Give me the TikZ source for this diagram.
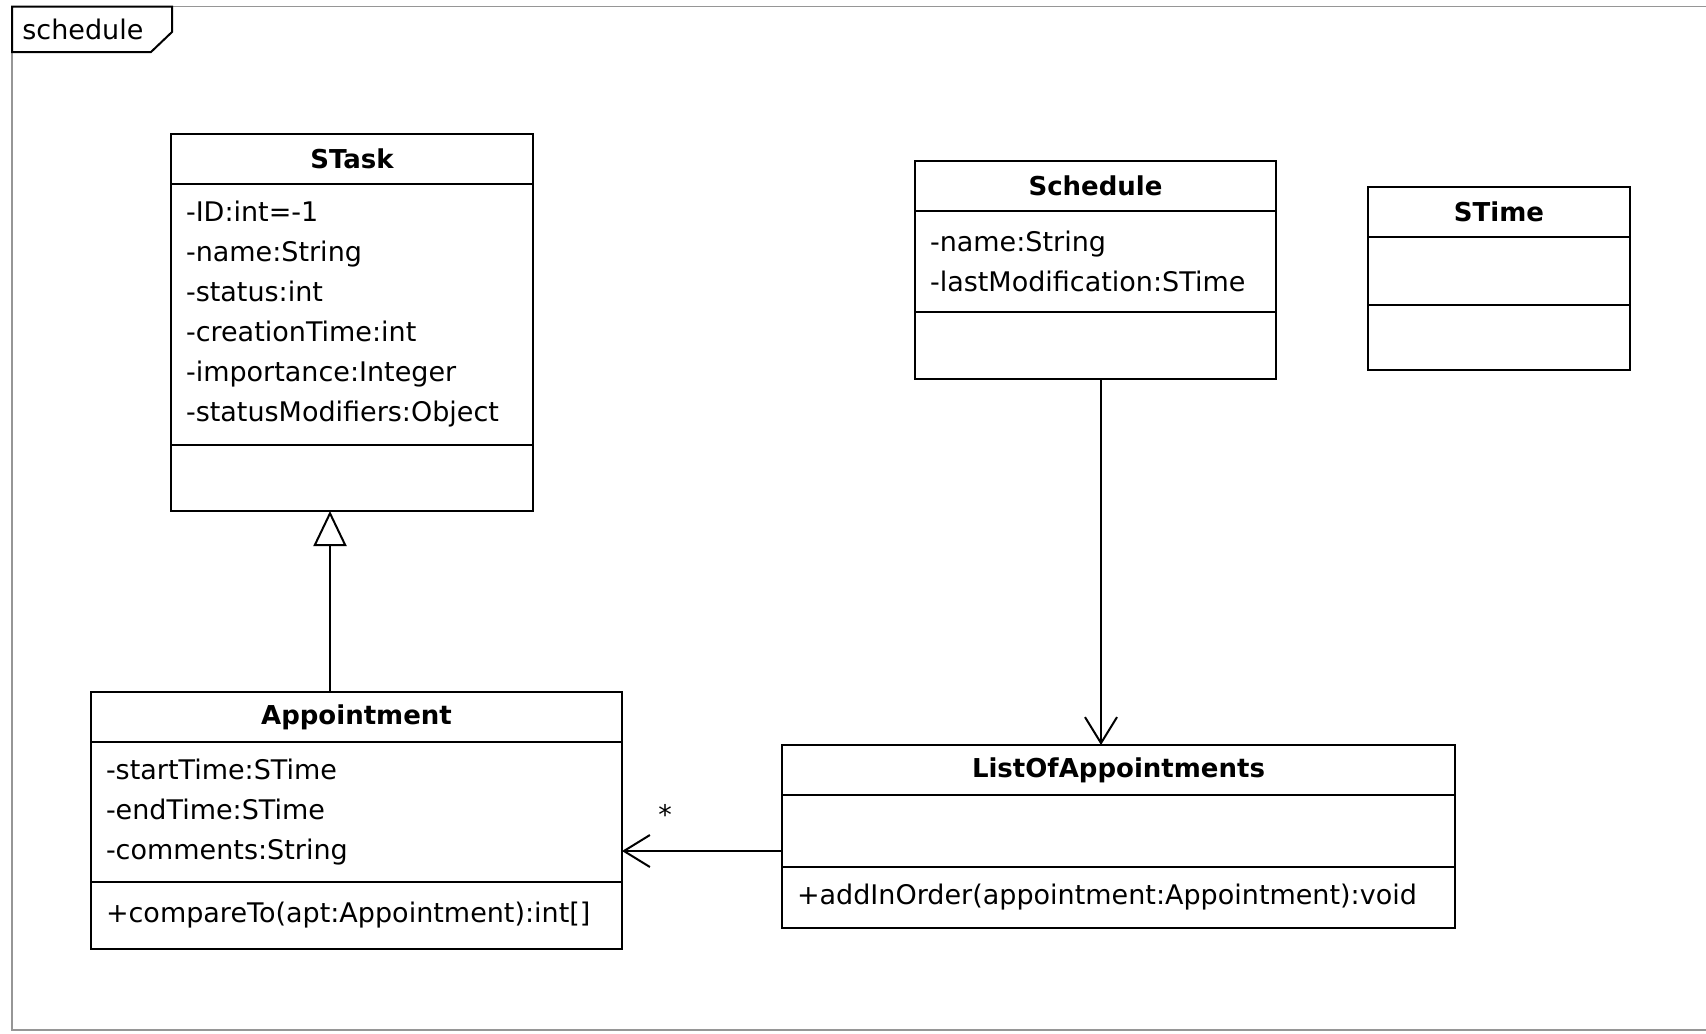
\documentclass[tikz,border=0pt]{standalone}
\usepackage{fontspec}
\setmainfont{DejaVu Sans}
\usetikzlibrary{positioning,arrows.meta}
\definecolor{framegray}{RGB}{150,150,150}

\tikzset{
  umlfont/.style={font=\fontsize{13.5}{20}\selectfont},
  classhead/.style={draw,line width=1pt,font=\fontsize{13}{20}\selectfont\bfseries,
    minimum height=25pt,inner sep=0pt,outer sep=0pt,anchor=north west},
  classpart/.style={draw,line width=1pt,umlfont,inner xsep=7.5pt,inner ysep=0pt,
    outer sep=0pt,align=left,anchor=north},
  generalization/.style={-{Triangle[open,length=17.5pt,width=16.5pt]},line width=1pt},
  navigable/.style={-{Straight Barb[length=13pt,width=16pt]},line width=1pt},
}

\begin{document}
\begin{tikzpicture}[x=0.5pt,y=-0.5pt]
        \useasboundingbox (0,0) rectangle (1706,1033);

        % package frame
        \draw[framegray,line width=0.8pt]
          (1706,6.5) -- (12,6.5) -- (12,1030) -- (1706,1030);
        \draw[line width=1pt]
          (12,6.5) -- (172,6.5) -- (172,32) -- (151,52) -- (12,52) -- cycle;
        \node[umlfont,anchor=west,inner sep=0pt] (tag) at (22,29) {schedule};

        % STask
        \node[classhead,minimum width=181pt] (stask) at (171,134) {STask};
        \node[classpart,text width=166pt,minimum height=130.5pt] (stask-attr)
          at (stask.south)
          {-ID:int=-1\\
           -name:String\\
           -status:int\\
           -creationTime:int\\
           -importance:Integer\\
           -statusModifiers:Object};
        \node[classpart,text width=166pt,minimum height=33pt] (stask-ops)
          at (stask-attr.south) {};

        % Schedule
        \node[classhead,minimum width=180.5pt] (sched) at (915,161) {Schedule};
        \node[classpart,text width=165.5pt,minimum height=50.5pt] (sched-attr)
          at (sched.south)
          {-name:String\\
           -lastModification:STime};
        \node[classpart,text width=165.5pt,minimum height=33.5pt] (sched-ops)
          at (sched-attr.south) {};

        % STime
        \node[classhead,minimum width=131pt] (stime) at (1368,187) {STime};
        \node[classpart,text width=116pt,minimum height=34pt] (stime-attr)
          at (stime.south) {};
        \node[classpart,text width=116pt,minimum height=32.5pt] (stime-ops)
          at (stime-attr.south) {};

        % Appointment
        \node[classhead,minimum width=265.5pt] (appt) at (91,692) {Appointment};
        \node[classpart,text width=250.5pt,minimum height=70pt] (appt-attr)
          at (appt.south)
          {-startTime:STime\\
           -endTime:STime\\
           -comments:String};
        \node[classpart,text width=250.5pt,minimum height=33.5pt] (appt-ops)
          at (appt-attr.south)
          {+compareTo(apt:Appointment):int[]};

        % ListOfAppointments
        \node[classhead,minimum width=336.5pt] (list) at (782,745) {ListOfAppointments};
        \node[classpart,text width=321.5pt,minimum height=36pt] (list-attr)
          at (list.south) {};
        \node[classpart,text width=321.5pt,minimum height=30.5pt] (list-ops)
          at (list-attr.south)
          {+addInOrder(appointment:Appointment):void};

        % relations
        \coordinate (genx) at (330,0);
        \draw[generalization] (appt.north -| genx) -- (stask-ops.south -| genx);

        \coordinate (navx) at (1101,0);
        \draw[navigable] (sched-ops.south -| navx) -- (list.north -| navx);

        \coordinate (navy) at (0,851);
        \draw[navigable] (list-attr.west |- navy) -- (appt-attr.east |- navy);
        \node[umlfont,inner sep=0pt] (mult) at (665,814) {*};
      \end{tikzpicture}
\end{document}
